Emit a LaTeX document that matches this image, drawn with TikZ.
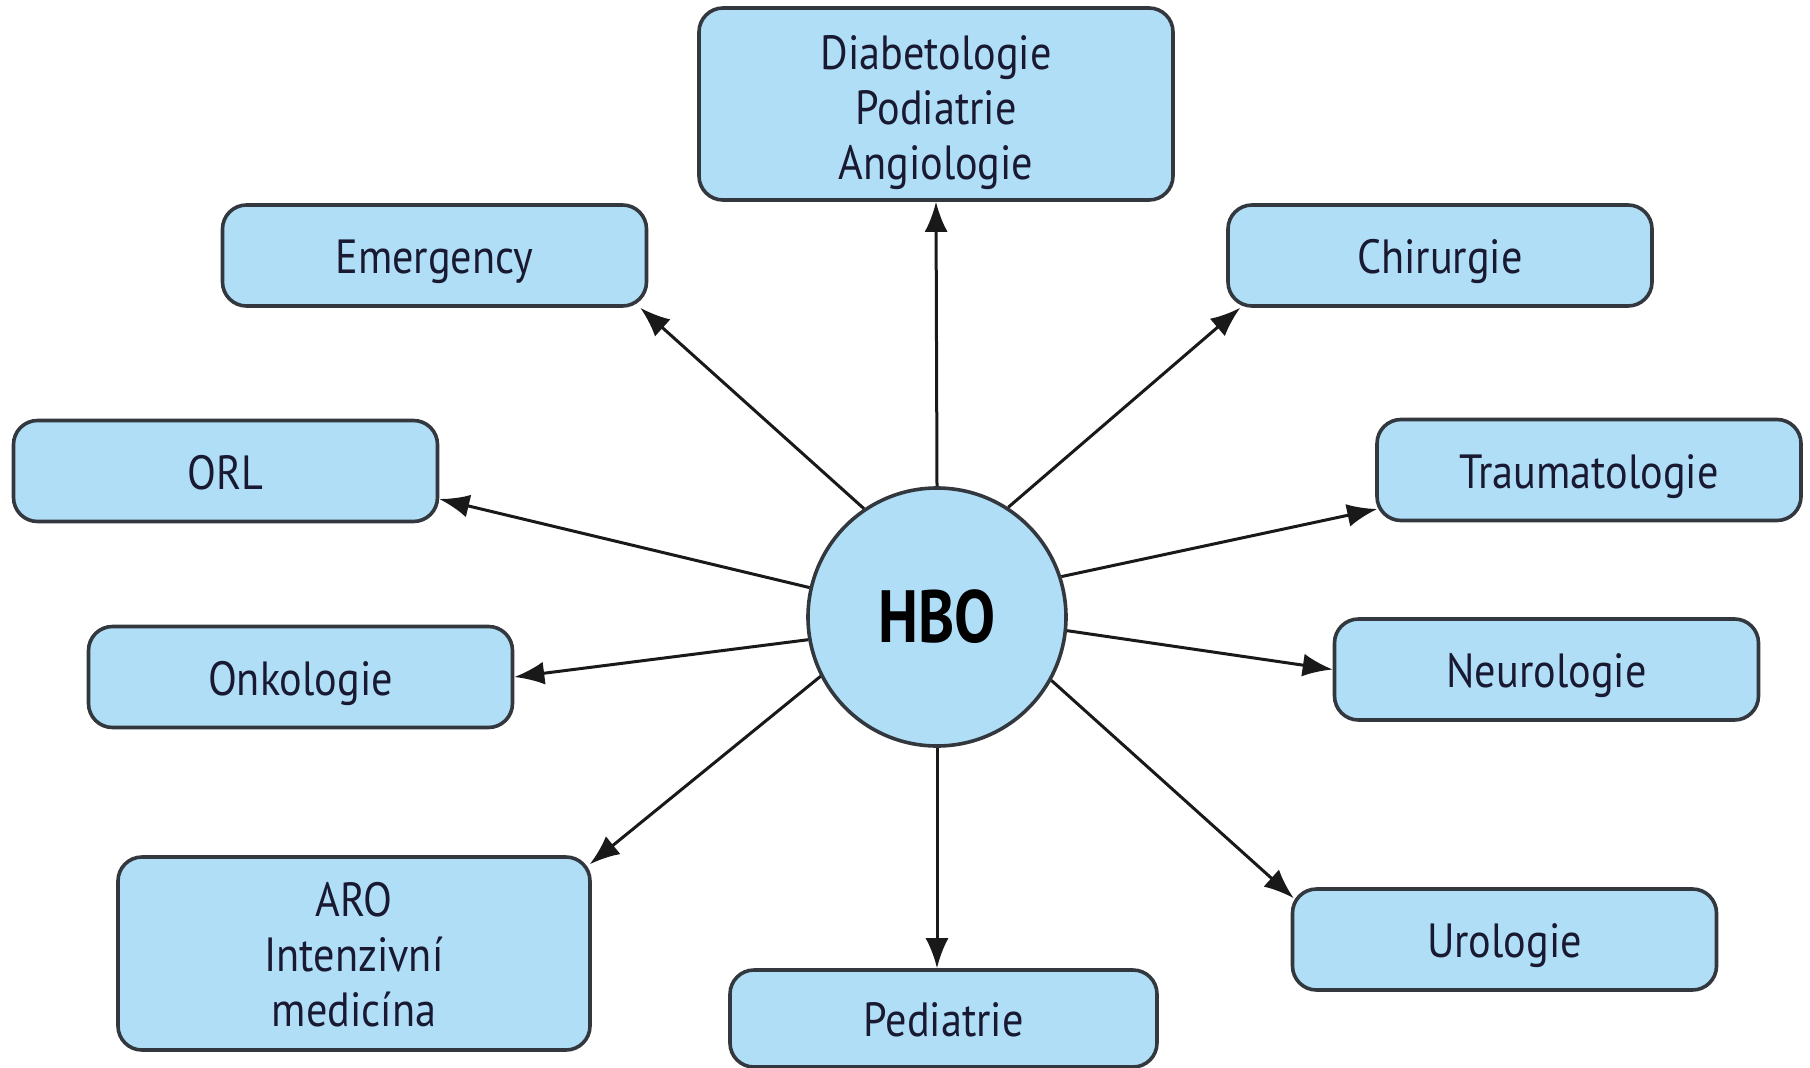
\documentclass[tikz,border=0pt]{standalone}
\usepackage{fontspec}
\setmainfont{PT Sans}[FakeStretch=0.88]
\newfontfamily\hubfont{PT Sans}[FakeStretch=0.83]
\usetikzlibrary{arrows.meta,calc}
\definecolor{boxfill}{RGB}{176,222,247}
\definecolor{boxline}{RGB}{50,56,62}
\definecolor{txt}{RGB}{25,25,50}
\tikzset{
  dept/.style={draw=boxline, line width=3.6pt, fill=boxfill, rounded corners=24pt,
    minimum width=424pt, minimum height=101pt, align=center, text=txt,
    font=\fontsize{48}{55}\selectfont, inner sep=0pt, text height=36pt, text depth=0pt},
  hub/.style={circle, draw=boxline, line width=3.6pt, fill=boxfill, minimum size=258pt,
    text=black, font=\hubfont\fontsize{74}{80}\selectfont\bfseries, inner sep=0pt},
  link/.style={line width=3pt, draw=black!90, -{Latex[length=30pt,width=23pt]}}
}
\begin{document}
\begin{tikzpicture}[x=1pt,y=-1pt]
\useasboundingbox (0,0) rectangle (1810,1068);
\node[dept, text height=150pt, minimum width=474pt, minimum height=192pt] (diab) at (936,104) {Diabetologie\\Podiatrie\\Angiologie};
\node[dept] (emerg) at (434.5,255.5) {Emergency};
\node[dept] (chir) at (1440,255.5) {Chirurgie};
\node[dept] (orl) at (225.5,471) {ORL};
\node[dept] (trauma) at (1589,470) {Traumatologie};
\node[dept] (onko) at (300.5,677) {Onkologie};
\node[dept] (neuro) at (1546.5,669.5) {Neurologie};
\node[dept, text height=146pt, minimum width=472pt, minimum height=193pt] (aro) at (354,953.5) {ARO\\Intenzivní\\medicína};
\node[dept, minimum width=427pt, minimum height=97pt] (pedi) at (943.5,1018.5) {Pediatrie};
\node[dept] (uro) at (1504.5,939.5) {Urologie};
\node[hub] (hbo) at (937,617) {HBO};

\draw[link] (hbo.north) -- (diab.south);
\draw[link] (hbo.124) -- ($(emerg.south east)+(-8,0)$);
\draw[link] (hbo.57) -- ($(chir.south west)+(14,0)$);
\draw[link] (hbo.167) -- ($(orl.east)+(0,28)$);
\draw[link] (hbo.18) -- ($(trauma.west)+(2,39)$);
\draw[link] (hbo.190) -- (onko.east);
\draw[link] (hbo.354) -- (neuro.west);
\draw[link] (hbo.207) -- ($(aro.north east)+(-2,9)$);
\draw[link] (hbo.south) -- (hbo.south |- pedi.north);
\draw[link] (hbo.331) -- ($(uro.north west)+(3,11)$);
\end{tikzpicture}
\end{document}
